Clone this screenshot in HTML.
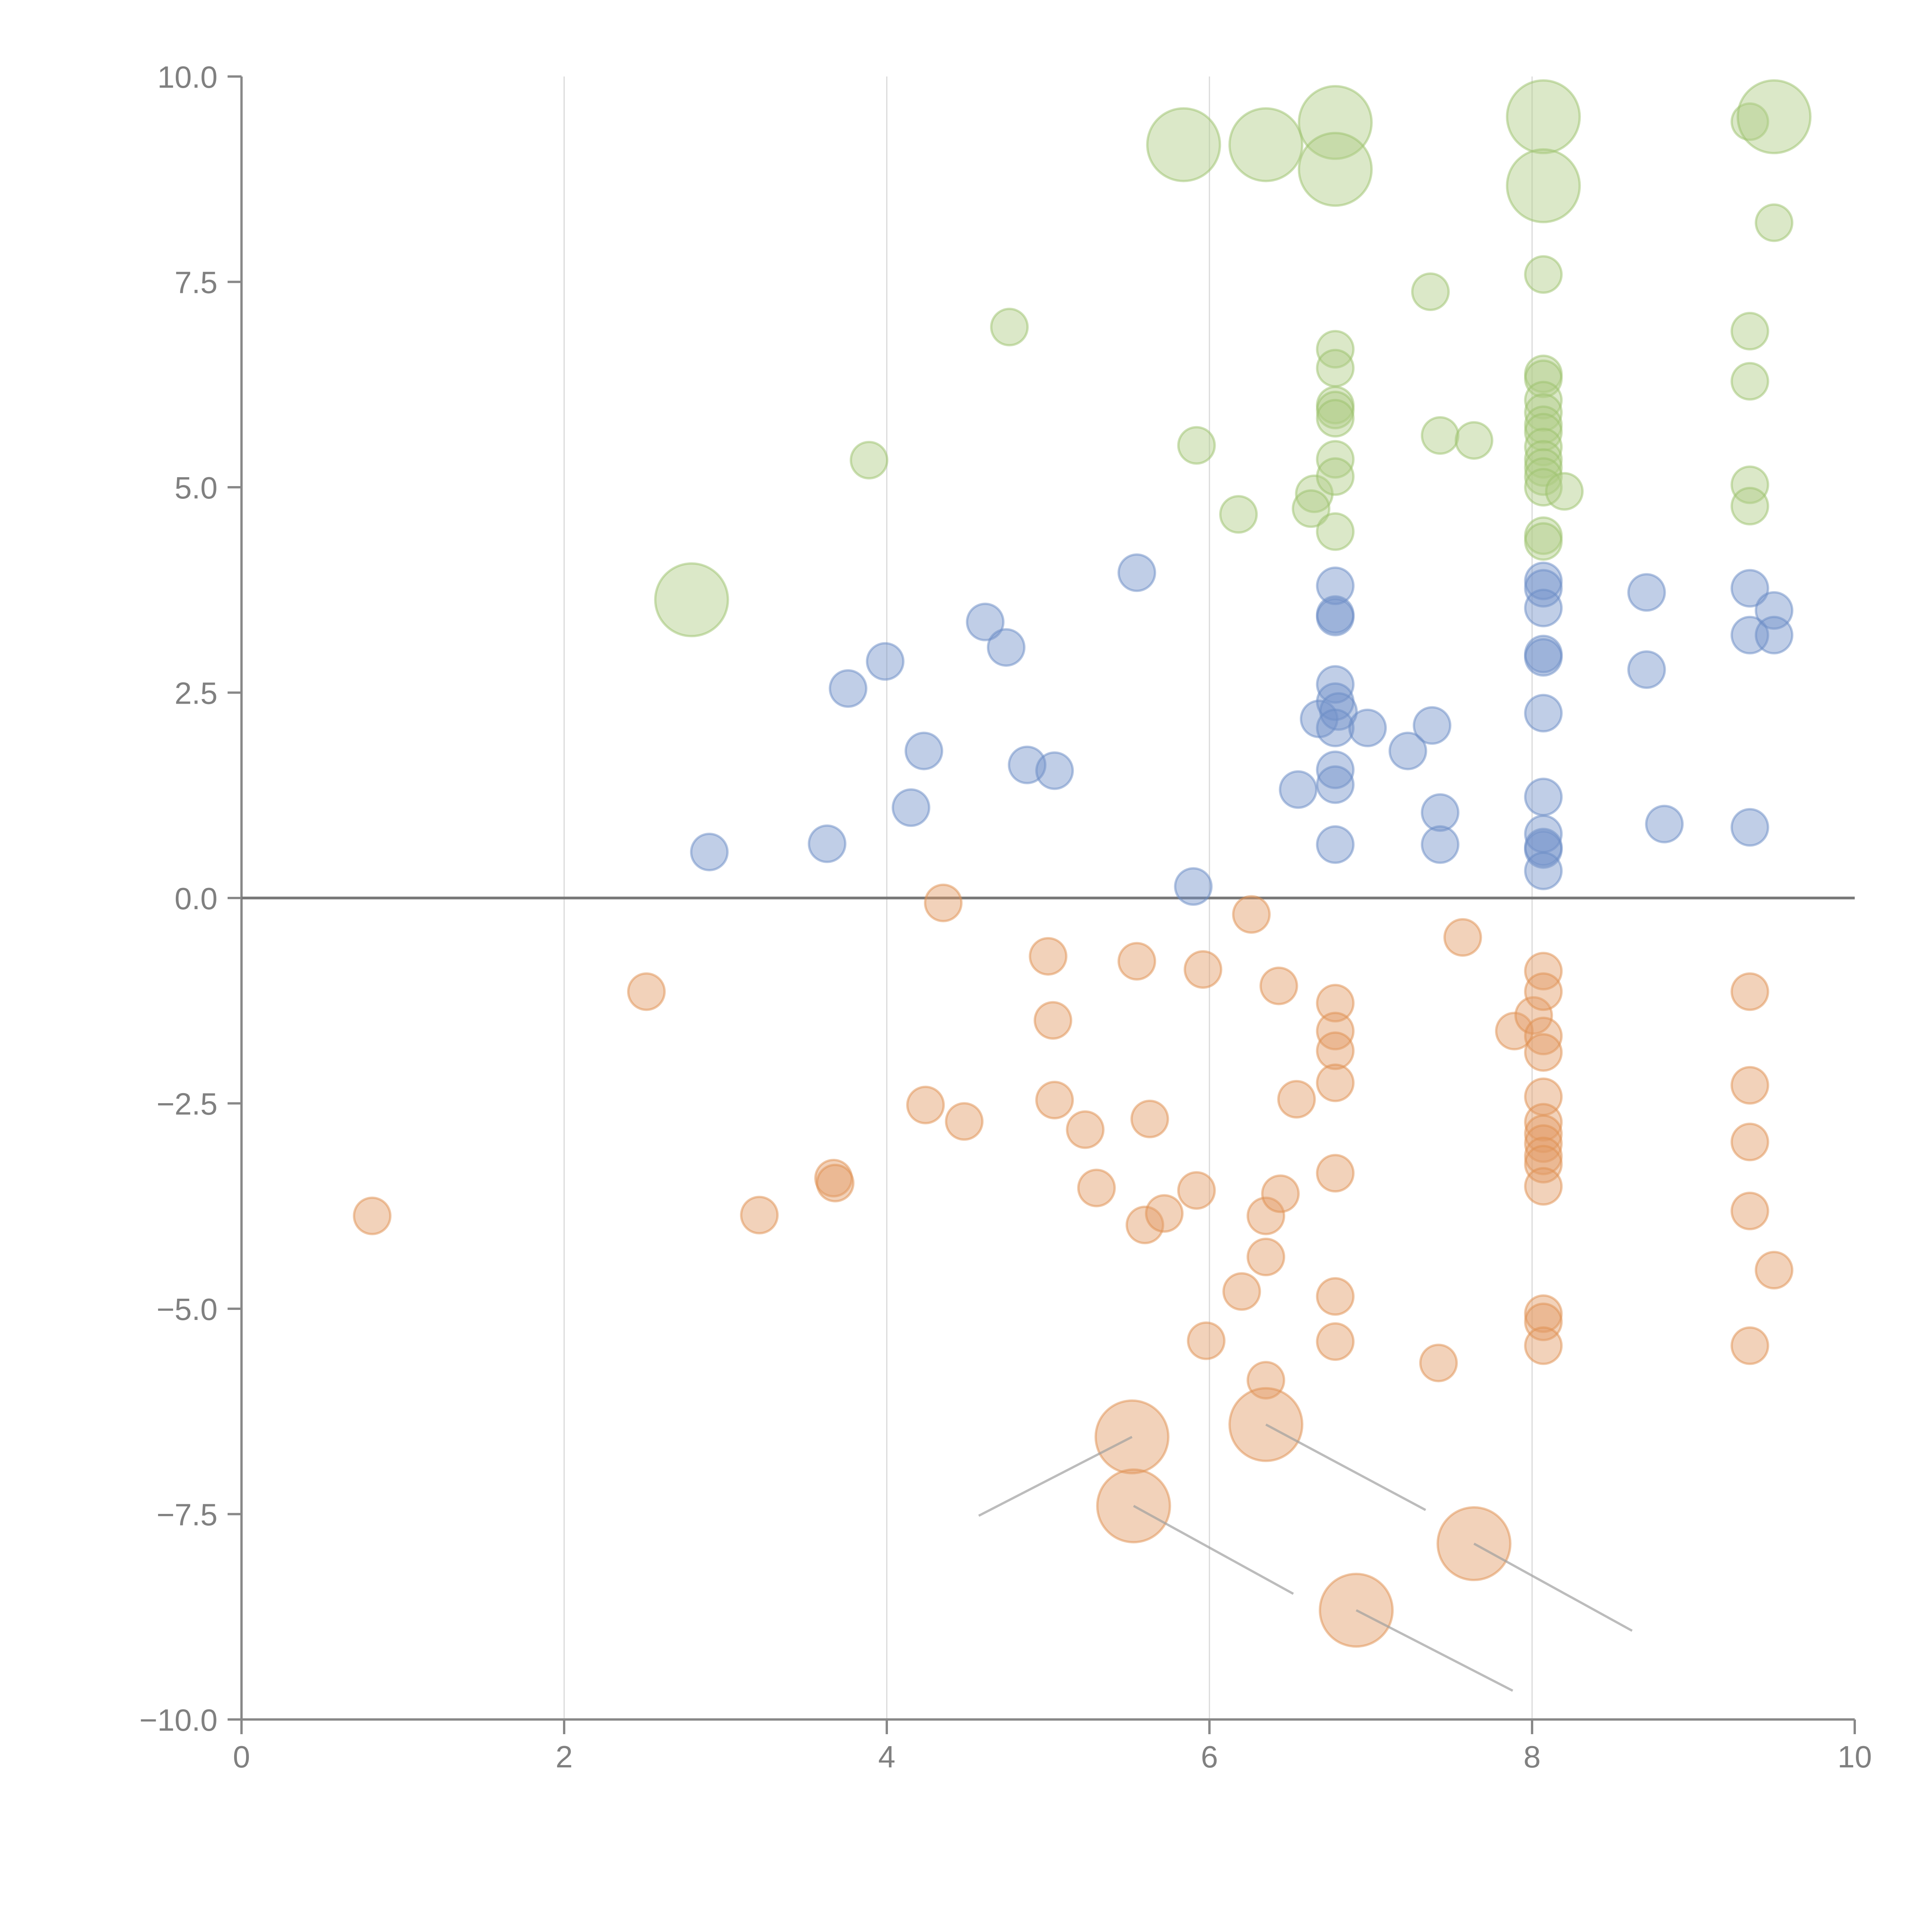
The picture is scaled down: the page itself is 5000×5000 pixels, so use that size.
<!DOCTYPE html>
<html><head><meta charset="utf-8"><style>
html,body{margin:0;padding:0;background:#fff;}
svg{display:block;}
text{font-family:"Liberation Sans",Arial,sans-serif;fill:#808080;}
</style></head><body>
<svg id="chart" width="5000" height="5000" viewBox="0 0 5000 5000" xmlns="http://www.w3.org/2000/svg">
<g id="grid"></g>
<g id="axes"></g>
<g id="marks"></g>
<g id="leaders"></g>
</svg>
<script>
const xTicks=[0,2,4,6,8,10];
const xTickLabels=["0","2","4","6","8","10"];
const yTicks=[-10,-7.5,-5,-2.5,0,2.5,5,7.5,10];
const yTickLabels=["\u221210.0","\u22127.5","\u22125.0","\u22122.5","0.0","2.5","5.0","7.5","10.0"];
const blueX=[2.90,3.63,3.76,3.99,4.23,4.15,4.61,4.74,4.87,5.04,5.55,5.90,6.55,6.68,6.78,6.78,6.78,6.78,6.78,6.80,6.78,6.78,6.78,6.78,6.98,7.23,7.38,7.43,7.43,8.07,8.07,8.07,8.07,8.07,8.07,8.07,8.07,8.07,8.07,8.07,8.71,8.71,8.82,9.35,9.35,9.35,9.50,9.50];
const blueY=[0.56,0.66,2.55,2.88,1.79,1.10,3.36,3.05,1.62,1.55,3.96,0.14,1.32,2.18,3.80,3.42,3.45,2.60,2.39,2.27,2.07,1.56,1.38,0.65,2.07,1.79,2.10,1.04,0.65,3.86,3.77,3.53,2.97,2.93,2.25,1.23,0.78,0.59,0.62,0.33,3.72,2.78,0.90,3.77,3.20,0.86,3.50,3.20];
const blueS=blueX.map(()=>1);
const greenX=[2.79,3.89,4.76,5.92,6.18,6.65,6.63,6.78,6.78,6.78,6.78,6.78,6.78,6.78,6.78,7.37,7.43,7.64,8.07,8.07,8.07,8.07,8.07,8.07,8.07,8.07,8.07,8.07,8.07,8.07,8.07,8.07,8.20,9.35,9.35,9.35,9.35,9.50,9.35,5.84,6.35,6.78,6.78,8.07,8.07,9.50];
const greenY=[3.63,5.33,6.95,5.51,4.67,4.92,4.74,6.68,6.45,6.00,5.94,5.84,5.34,5.13,4.46,7.38,5.63,5.57,7.59,6.38,6.32,6.06,5.91,5.76,5.67,5.49,5.34,5.24,5.13,5.00,4.41,4.34,4.95,6.90,6.29,5.03,4.77,8.22,9.45,9.17,9.17,9.44,8.87,9.51,8.67,9.51];
const greenS=[2,1,1,1,1,1,1,1,1,1,1,1,1,1,1,1,1,1,1,1,1,1,1,1,1,1,1,1,1,1,1,1,1,1,1,1,1,1,1,2,2,2,2,2,2,2];
const orangeX=[0.81,2.51,3.21,3.67,3.68,4.24,4.35,4.48,5.00,5.03,5.04,5.23,5.30,5.55,5.60,5.63,5.72,5.92,5.96,5.98,6.20,6.26,6.35,6.35,6.35,6.43,6.44,6.54,6.78,6.78,6.78,6.78,6.78,6.78,6.78,7.42,7.57,7.89,8.01,8.07,8.07,8.07,8.07,8.07,8.07,8.07,8.07,8.07,8.07,8.07,8.07,8.07,8.07,9.35,9.35,9.35,9.35,9.35,9.50,5.52,5.53,6.35,7.64,6.91];
const orangeY=[-3.87,-1.14,-3.86,-3.41,-3.47,-2.52,-0.06,-2.72,-0.71,-1.49,-2.46,-2.82,-3.53,-0.77,-3.98,-2.69,-3.84,-3.56,-0.87,-5.39,-4.79,-0.20,-3.87,-4.37,-5.87,-1.07,-3.60,-2.45,-1.28,-1.62,-1.86,-2.25,-3.35,-4.85,-5.40,-5.66,-0.48,-1.62,-1.43,-0.89,-1.14,-1.68,-1.88,-2.42,-2.73,-2.87,-2.99,-3.14,-3.24,-3.51,-5.06,-5.16,-5.45,-1.14,-2.28,-2.97,-3.81,-5.45,-4.53,-6.56,-7.40,-6.41,-7.86,-8.67];
const orangeS=[1,1,1,1,1,1,1,1,1,1,1,1,1,1,1,1,1,1,1,1,1,1,1,1,1,1,1,1,1,1,1,1,1,1,1,1,1,1,1,1,1,1,1,1,1,1,1,1,1,1,1,1,1,1,1,1,1,1,1,2,2,2,2,2];
const leaderFromX=[5.52,5.53,6.35,7.64,6.91];
const leaderFromY=[-6.56,-7.40,-6.41,-7.86,-8.67];
const leaderToX=[4.57,6.52,7.34,8.62,7.88];
const leaderToY=[-7.52,-8.47,-7.45,-8.92,-9.65];

const X0=625,X1=4800,Y0=4450,Y1=198;
const sx=v=>X0+(v-0)/(10-0)*(X1-X0);
const sy=v=>Y0-(v+10)/20*(Y0-Y1);
const NS="http://www.w3.org/2000/svg";
function mk(tag,attrs,parent){const e=document.createElementNS(NS,tag);for(const k in attrs)e.setAttribute(k,attrs[k]);parent.appendChild(e);return e;}
const grid=document.getElementById('grid'),axes=document.getElementById('axes'),marks=document.getElementById('marks'),leaders=document.getElementById('leaders');
xTicks.forEach((t,i)=>{
  if(t>0&&t<10){const g=mk('line',{x1:sx(t),x2:sx(t),y1:Y1,y2:Y0,stroke:'#d9d9d9','stroke-width':3},grid);
  
  }
  const tk=mk('line',{x1:sx(t),x2:sx(t),y1:Y0,y2:Y0+38,stroke:'#888','stroke-width':6},axes);
  
  
  const tx=mk('text',{x:sx(t),y:Y0+124,'font-size':80,'text-anchor':'middle'},axes);
  tx.textContent=xTickLabels[i];
  
  
});
yTicks.forEach((t,i)=>{
  const tk=mk('line',{x1:X0-36,x2:X0,y1:sy(t),y2:sy(t),stroke:'#888','stroke-width':6},axes);
  
  
  const tx=mk('text',{x:X0-62,y:sy(t)+29,'font-size':80,'text-anchor':'end'},axes);
  tx.textContent=yTickLabels[i];
  
  
});
const ya=mk('line',{x1:X0,x2:X0,y1:Y1,y2:Y0,stroke:'#888','stroke-width':6},axes);


const xa=mk('line',{x1:X0,x2:X1,y1:Y0,y2:Y0,stroke:'#888','stroke-width':6},axes);


const zl=mk('line',{x1:X0,x2:X1,y1:sy(0),y2:sy(0),stroke:'#777','stroke-width':7},axes);


function series(xs,ys,ss,fill,stroke,name){
  xs.forEach((x,i)=>{
    const c=mk('circle',{cx:sx(x),cy:sy(ys[i]),r:ss[i]*47,fill:fill,'fill-opacity':0.45,stroke:stroke,'stroke-opacity':0.5,'stroke-width':6},marks);
    
    
  });
}
series(blueX,blueY,blueS,'#7393c9','#6a8cc6','bubble-positive');
series(greenX,greenY,greenS,'#afcd85','#9cc16c','bubble-high');
series(orangeX,orangeY,orangeS,'#e29c65','#e08f4f','bubble-negative');
leaderFromX.forEach((x,i)=>{
  const l=mk('line',{x1:sx(x),y1:sy(leaderFromY[i]),x2:sx(leaderToX[i]),y2:sy(leaderToY[i]),stroke:'#a0a0a0','stroke-opacity':0.7,'stroke-width':6},leaders);
  
  
});
</script>
</body></html>
